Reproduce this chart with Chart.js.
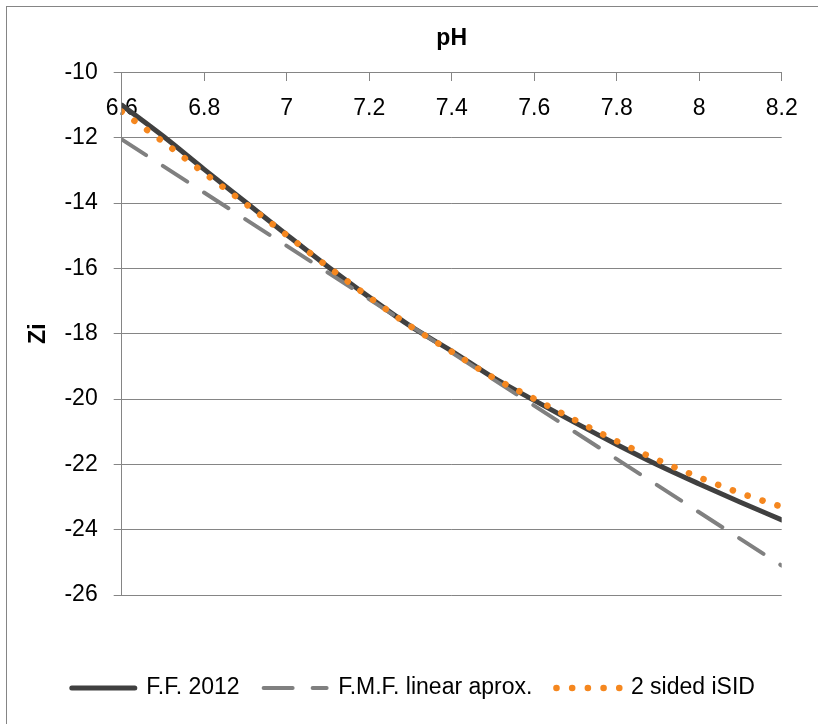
<!DOCTYPE html>
<html>
<head>
<meta charset="utf-8">
<script src="https://cdn.jsdelivr.net/npm/chart.js@4.4.1/dist/chart.umd.min.js"></script>
<style>
  html, body { margin: 0; padding: 0; background: #fff; }
  canvas { display: block; }
</style>
</head>
<body>
<canvas id="chart" width="818" height="724"></canvas>
<script>
// values
const phValues = [6.6, 6.7, 6.8, 6.9, 7.0, 7.1, 7.2, 7.3, 7.4, 7.5, 7.6, 7.7, 7.8, 7.9, 8.0, 8.1, 8.2];
const ff2012 = [-11.0, -11.95, -12.97, -13.97, -14.97, -15.95, -16.88, -17.77, -18.53, -19.34, -20.04, -20.73, -21.39, -22.02, -22.6, -23.16, -23.7];
const isid2Sided = [-11.2, -12.12, -13.08, -14.02, -14.98, -15.95, -16.88, -17.77, -18.55, -19.34, -19.99, -20.65, -21.29, -21.87, -22.4, -22.88, -23.3];
// the linear approximation is a straight line, so just its two ends
const fmfPh = [6.6, 8.2];
const fmfLinear = [-12.05, -25.1];

const seriesNames = ["F.F. 2012", "F.M.F. linear aprox.", "2 sided iSID"];
const xTicks = [6.6, 6.8, 7, 7.2, 7.4, 7.6, 7.8, 8, 8.2];
const yTicks = [-10, -12, -14, -16, -18, -20, -22, -24, -26];

const gridColor = "#858585";
const tickFont = { family: "Liberation Sans", size: 23 };
const titleFont = { family: "Liberation Sans", size: 23, weight: "bold" };

const toPoints = (xs, ys) => xs.map((x, i) => ({ x: x, y: ys[i] }));

// outer frame of the chart (runs off right/bottom like the original)
const frame = {
  id: "frame",
  beforeDraw(chart) {
    const ctx = chart.ctx;
    ctx.save();
    ctx.strokeStyle = gridColor;
    ctx.lineWidth = 1;
    ctx.strokeRect(6.5, 6.5, 900, 900);
    ctx.restore();
  }
};

// legend samples should use the dataset's line style, not the point style
function legendLabels(chart) {
  const items = Chart.defaults.plugins.legend.labels.generateLabels(chart);
  items.forEach((it) => {
    const ds = chart.data.datasets[it.datasetIndex];
    it.lineDash = ds.borderDash || [];
    it.lineCap = ds.borderCapStyle;
    it.lineWidth = ds.borderWidth;
    it.strokeStyle = ds.borderColor;
  });
  return items;
}

const ctx = document.getElementById("chart");

new Chart(ctx, {
  type: "line",
  data: {
    datasets: [
      {
        label: seriesNames[0],
        data: toPoints(phValues, ff2012),
        borderColor: "#404040",
        borderWidth: 5,
        borderCapStyle: "round",
        pointRadius: 0,
        cubicInterpolationMode: "monotone",
        order: 3
      },
      {
        label: seriesNames[1],
        data: toPoints(fmfPh, fmfLinear),
        borderColor: "#808080",
        borderWidth: 4,
        borderDash: [29, 20],
        borderCapStyle: "round",
        pointRadius: 0,
        order: 2
      },
      {
        label: seriesNames[2],
        data: toPoints(phValues, isid2Sided),
        borderColor: "#F5871F",
        borderWidth: 6.5,
        borderDash: [0.1, 15.6],
        borderCapStyle: "round",
        pointRadius: 0,
        cubicInterpolationMode: "monotone",
        order: 1
      }
    ]
  },
  options: {
    responsive: false,
    animation: false,
    events: [],
    layout: { padding: { left: 47.8, top: 10, right: 0, bottom: 14.5 } },
    scales: {
      x: {
        type: "linear",
        position: { y: -10 },
        min: 6.6,
        max: 8.2,
        afterBuildTicks: (s) => { s.ticks = xTicks.map((v) => ({ value: v })); },
        ticks: { callback: (v) => String(v), color: "#000", font: tickFont, padding: 14, maxRotation: 0, autoSkip: false },
        grid: { drawOnChartArea: false, drawTicks: true, tickLength: 8, color: gridColor },
        border: { color: gridColor }
      },
      xTop: {
        type: "linear",
        position: "top",
        min: 6.6,
        max: 8.2,
        ticks: { display: false },
        grid: { display: false },
        border: { display: false },
        title: { display: true, text: "pH", color: "#000", font: titleFont, padding: { top: 15.2, bottom: 0 } },
        afterFit: (s) => { s.height = 62.4; }
      },
      xPad: {
        type: "linear",
        position: "bottom",
        ticks: { display: false },
        grid: { display: false },
        border: { display: false },
        afterFit: (s) => { s.height = 57.5; }
      },
      yPad: {
        type: "linear",
        position: "right",
        ticks: { display: false },
        grid: { display: false },
        border: { display: false },
        afterFit: (s) => { s.width = 36.3; }
      },
      y: {
        type: "linear",
        position: "left",
        min: -26,
        max: -10,
        afterBuildTicks: (s) => { s.ticks = yTicks.map((v) => ({ value: v })); },
        ticks: { color: "#000", font: tickFont, padding: 16 },
        grid: { color: gridColor, tickLength: 8 },
        border: { color: gridColor },
        title: { display: true, text: "Zi", color: "#000", font: titleFont, padding: { top: -22.9, bottom: 0 } },
        afterFit: (s) => { s.width = 73.9; }
      }
    },
    plugins: {
      tooltip: { enabled: false },
      legend: {
        position: "bottom",
        align: "start",
        labels: {
          usePointStyle: true,
          pointStyle: "line",
          pointStyleWidth: 63,
          padding: 24,
          color: "#000",
          font: { family: "Liberation Sans", size: 23 },
          generateLabels: legendLabels,
          sort: (a, b) => a.datasetIndex - b.datasetIndex
        }
      }
    }
  },
  plugins: [frame]
});
</script>
</body>
</html>
